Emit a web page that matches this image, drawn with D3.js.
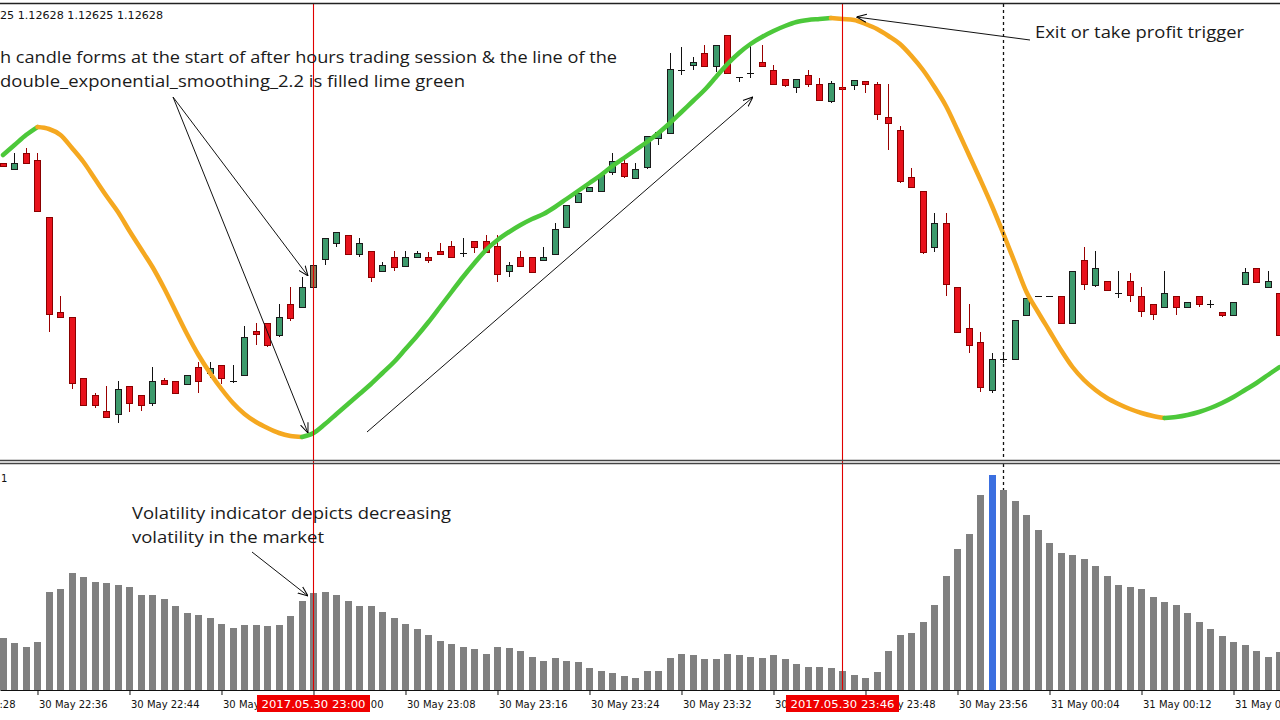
<!DOCTYPE html>
<html><head><meta charset="utf-8">
<script src="https://cdn.jsdelivr.net/npm/d3@7"></script>
<style>html,body{margin:0;padding:0;background:#fff;overflow:hidden}svg{display:block}</style>
</head><body>
<svg id="chart" width="1280" height="720"></svg>
<script>
// ---------- DATA ----------
const firstBar = "2017.05.30 22:33";   // time of first 1-minute bar
const open = [
1.12765,1.12759,1.12775,1.12768,1.12711,1.12616,1.12611,1.12550,1.12533,1.12517,
1.12514,1.12542,1.12533,1.12525,1.12548,1.12547,1.12544,1.12561,1.12555,1.12563,
1.12547,1.12553,1.12597,1.12605,1.12593,1.12624,1.12621,
1.12641,1.12669,1.12685,1.12693,1.12674,1.12677,1.12657,1.12671,1.12662,1.12671,
1.12671,1.12677,1.12682,1.12675,1.12687,1.12687,1.12682,1.12657,1.12671,1.12671,
1.12668,1.12674,1.12701,1.12726,1.12737,1.12737,1.12756,1.12765,1.12750,1.12761,
1.12790,1.12795,1.12858,1.12863,1.12875,1.12862,1.12893,1.12851,1.12855,1.12866,
1.12858,1.12849,1.12841,1.12853,1.12844,1.12827,1.12841,1.12843,1.12847,1.12844,
1.12811,1.12798,1.12751,1.12737,1.12681,1.12705,1.12641,1.12600,1.12586,1.12538,
1.12569,1.12569,1.12613,1.12632,1.12632,1.12632,1.12605,1.12668,1.12643,1.12647,
1.12635,1.12647,1.12632,1.12624,1.12621,1.12632,1.12621,1.12632,1.12624,1.12616,
1.12613,1.12644,1.12660,1.12641,1.12635];
const high = [
1.12765,1.12775,1.12780,1.12775,1.12711,1.12632,1.12611,1.12550,1.12535,1.12542,
1.12547,1.12542,1.12533,1.12561,1.12550,1.12547,1.12553,1.12566,1.12566,1.12563,
1.12563,1.12602,1.12605,1.12605,1.12624,1.12641,1.12651,
1.12668,1.12690,1.12696,1.12693,1.12690,1.12677,1.12666,1.12677,1.12677,1.12677,
1.12676,1.12685,1.12687,1.12690,1.12687,1.12693,1.12693,1.12666,1.12677,1.12671,
1.12681,1.12705,1.12723,1.12735,1.12741,1.12753,1.12775,1.12768,1.12765,1.12792,
1.12796,1.12875,1.12881,1.12871,1.12883,1.12883,1.12893,1.12851,1.12885,1.12883,
1.12863,1.12849,1.12849,1.12858,1.12850,1.12847,1.12841,1.12848,1.12847,1.12846,
1.12844,1.12802,1.12760,1.12737,1.12715,1.12715,1.12641,1.12624,1.12596,1.12575,
1.12573,1.12608,1.12630,1.12632,1.12632,1.12632,1.12657,1.12681,1.12677,1.12647,
1.12657,1.12655,1.12641,1.12624,1.12657,1.12632,1.12626,1.12632,1.12628,1.12616,
1.12626,1.12660,1.12660,1.12657,1.12635];
const low = [
1.12762,1.12759,1.12765,1.12717,1.12596,1.12611,1.12539,1.12523,1.12520,1.12511,
1.12505,1.12516,1.12517,1.12522,1.12544,1.12535,1.12544,1.12535,1.12550,1.12544,
1.12545,1.12553,1.12583,1.12581,1.12591,1.12607,1.12621,
1.12641,1.12663,1.12681,1.12674,1.12671,1.12646,1.12657,1.12657,1.12662,1.12671,
1.12665,1.12674,1.12671,1.12671,1.12675,1.12676,1.12646,1.12651,1.12662,1.12656,
1.12668,1.12674,1.12701,1.12726,1.12737,1.12737,1.12753,1.12750,1.12750,1.12759,
1.12783,1.12795,1.12853,1.12858,1.12862,1.12856,1.12855,1.12846,1.12850,1.12862,
1.12844,1.12841,1.12835,1.12841,1.12828,1.12825,1.12839,1.12838,1.12835,1.12808,
1.12778,1.12745,1.12741,1.12674,1.12676,1.12632,1.12596,1.12575,1.12536,1.12535,
1.12565,1.12569,1.12613,1.12632,1.12632,1.12605,1.12605,1.12638,1.12641,1.12638,
1.12630,1.12626,1.12611,1.12608,1.12621,1.12613,1.12621,1.12621,1.12620,1.12611,
1.12613,1.12644,1.12646,1.12641,1.12593];
const close = [
1.12762,1.12765,1.12765,1.12717,1.12614,1.12611,1.12545,1.12523,1.12523,1.12511,
1.12539,1.12525,1.12523,1.12547,1.12544,1.12535,1.12553,1.12547,1.12560,1.12550,
1.12547,1.12591,1.12594,1.12583,1.12611,1.12610,1.12641,
1.12663,1.12690,1.12696,1.12674,1.12685,1.12651,1.12663,1.12661,1.12671,1.12675,
1.12668,1.12674,1.12671,1.12675,1.12681,1.12676,1.12654,1.12663,1.12662,1.12656,
1.12671,1.12699,1.12723,1.12735,1.12741,1.12753,1.12767,1.12752,1.12759,1.12792,
1.12796,1.12859,1.12858,1.12866,1.12862,1.12883,1.12855,1.12851,1.12855,1.12862,
1.12844,1.12843,1.12849,1.12844,1.12828,1.12845,1.12839,1.12848,1.12844,1.12814,
1.12805,1.12747,1.12741,1.12676,1.12705,1.12644,1.12596,1.12583,1.12541,1.12569,
1.12569,1.12608,1.12630,1.12632,1.12632,1.12605,1.12657,1.12644,1.12660,1.12638,
1.12635,1.12633,1.12617,1.12614,1.12635,1.12621,1.12626,1.12624,1.12624,1.12613,
1.12626,1.12656,1.12646,1.12647,1.12593];
// double_exponential_smoothing_2.2 line
const dema = [
1.12773,1.12783,1.12793,1.12801,1.12799,1.12793,1.12780,1.12766,1.12749,1.12732,
1.12716,1.12697,1.12679,1.12661,1.12640,1.12617,1.12594,1.12573,1.12555,1.12539,
1.12525,1.12514,1.12506,1.12500,1.12495,1.12492,1.12491,
1.12495,1.12504,1.12514,1.12524,1.12534,1.12544,1.12555,1.12566,1.12579,1.12592,
1.12606,1.12621,1.12636,1.12651,1.12665,1.12678,1.12688,1.12696,1.12703,1.12709,
1.12714,1.12721,1.12729,1.12737,1.12745,1.12753,1.12762,1.12770,1.12778,1.12786,
1.12795,1.12805,1.12816,1.12827,1.12838,1.12851,1.12864,1.12875,1.12884,1.12891,
1.12897,1.12902,1.12906,1.12908,1.12909,1.12910,
1.12909,1.12908,1.12904,1.12899,1.12892,1.12884,1.12872,1.12858,1.12841,1.12822,
1.12798,1.12773,1.12748,1.12722,1.12694,1.12665,1.12636,1.12616,1.12597,1.12578,
1.12561,1.12548,1.12538,1.12530,1.12524,1.12519,1.12515,1.12512,1.12510,1.12511,
1.12513,1.12516,1.12520,1.12525,1.12531,1.12538,1.12545,1.12553,1.12561];
// volatility histogram
const volatility = [
5.2,4.7,4.3,4.8,9.8,10.1,11.7,11.3,10.8,10.7,10.5,10.3,9.5,9.5,9.1,8.4,7.7,7.5,7.2,6.6,
6.2,6.5,6.5,6.4,6.5,7.4,8.9,
9.7,9.8,9.5,8.9,8.4,8.4,7.8,7.2,6.6,6.1,5.5,4.9,4.6,4.3,4.1,3.6,4.3,4.2,3.9,3.3,
2.9,3.2,2.9,2.8,2.2,1.9,1.7,1.4,1.2,
1.9,1.9,3.2,3.6,3.5,3.1,3.1,3.6,3.5,3.3,3.2,3.5,3.1,2.6,2.3,2.3,2.2,1.9,1.5,1.2,
1.8,3.9,5.5,5.7,6.8,8.5,11.4,14.1,15.6,19.5,21.5,20.0,18.9,17.5,16.0,14.7,13.7,13.5,13.1,12.4,
11.4,10.5,10.3,10.1,9.3,8.8,8.5,7.7,6.8,6.1,5.4,4.8,4.5,3.9,3.3,3.8];
const tickTimes = ["2017.05.30 22:28","2017.05.30 22:36","2017.05.30 22:44","2017.05.30 22:52",
  "2017.05.30 23:00","2017.05.30 23:08","2017.05.30 23:16","2017.05.30 23:24","2017.05.30 23:32",
  "2017.05.30 23:40","2017.05.30 23:48","2017.05.30 23:56","2017.05.31 00:04","2017.05.31 00:12",
  "2017.05.31 00:20"];
const markerTimes = ["2017.05.30 23:00","2017.05.30 23:46"];   // red vertical lines
const exitTime = "2017.05.31 00:00";                           // dotted line
const highlightCandle = "2017.05.30 23:00";
const highlightBar = "2017.05.30 23:59";
const headerText = "25 1.12628 1.12625 1.12628";

// ---------- SETUP ----------
const W = 1280, H = 720;
const parse = d3.timeParse("%Y.%m.%d %H:%M");
const fmtTick = d3.timeFormat("%d %b %H:%M");
const t0 = parse(firstBar);
const times = open.map((_, i) => d3.timeMinute.offset(t0, i));
const bars = times.map((t, i) => ({t, o: open[i], h: high[i], l: low[i], c: close[i], v: volatility[i], s: dema[i]}));

const x = d3.scaleTime()
  .domain([new Date(2017,4,30,22,32,44,348), new Date(2017,4,31,0,24,2,609)])
  .range([0, W]);
const yP = d3.scaleLinear().domain([1.12470, 1.12928]).range([458, 0]);
const yV = d3.scaleLinear().domain([0, 22.8]).range([690, 462]);
const px = t => Math.floor(x(t) + 0.01) + 0.5;

const svg = d3.select("#chart");
svg.append("rect").attr("width", W).attr("height", H).attr("fill", "#fff");
const defs = svg.append("defs");
defs.append("clipPath").attr("id", "clipTop").append("rect").attr("x", 0).attr("y", 4).attr("width", W).attr("height", 455);
defs.append("marker").attr("id", "ah").attr("viewBox", "0 0 10 10").attr("refX", 10).attr("refY", 5)
  .attr("markerWidth", 10).attr("markerHeight", 10).attr("markerUnits", "userSpaceOnUse").attr("orient", "auto")
  .append("path").attr("d", "M0,1 L10,5 L0,9").attr("fill", "none").attr("stroke", "#000").attr("stroke-width", 1);

// ---------- CANDLES ----------
const topG = svg.append("g").attr("clip-path", "url(#clipTop)");
const GREEN = "#3d9a6c", RED = "#e8121c";
const cg = topG.append("g");
bars.forEach(d => {
  const cx = px(d.t);
  const dn = d.c < d.o, up = d.c > d.o;
  const special = +d.t === +parse(highlightCandle);
  cg.append("line").attr("x1", cx).attr("x2", cx).attr("y1", yP(d.h)).attr("y2", yP(d.l))
    .attr("stroke", dn ? "#9a0000" : "#111").attr("stroke-width", 1);
  if (!up && !dn) {
    cg.append("line").attr("x1", cx - 3.5).attr("x2", cx + 3.5).attr("y1", yP(d.o) + 0.5).attr("y2", yP(d.o) + 0.5)
      .attr("stroke", "#111").attr("stroke-width", 1);
  } else {
    const yt = yP(Math.max(d.o, d.c)), yb = yP(Math.min(d.o, d.c));
    cg.append("rect").attr("x", cx - 3).attr("y", yt + 0.5).attr("width", 6).attr("height", Math.max(1, yb - yt))
      .attr("fill", special ? "#8a7652" : (up ? GREEN : RED))
      .attr("stroke", up ? "#1a1a1a" : "#8a0000").attr("stroke-width", 1);
  }
});

// ---------- HISTOGRAM ----------
const hg = svg.append("g");
hg.selectAll("rect").data(bars).join("rect")
  .attr("x", d => Math.floor(x(d.t) + 0.01) - 3)
  .attr("y", d => yV(d.v))
  .attr("width", 7)
  .attr("height", d => yV(0) - yV(d.v))
  .attr("fill", d => +d.t === +parse(highlightBar) ? "#3b6fe0" : "#808080");

// ---------- VERTICAL LINES ----------
markerTimes.forEach(s => {
  const cx = px(parse(s));
  svg.append("line").attr("x1", cx).attr("x2", cx).attr("y1", 4).attr("y2", 690)
    .attr("stroke", "#e00000").attr("stroke-width", 1.1);
});
{
  const te = parse(exitTime);
  const cx = px(te);
  const vb = bars.find(b => +b.t === +te);
  svg.append("line").attr("x1", cx).attr("x2", cx).attr("y1", 4).attr("y2", 458)
    .attr("stroke", "#111").attr("stroke-width", 1.3).attr("stroke-dasharray", "3,3");
  svg.append("line").attr("x1", cx).attr("x2", cx).attr("y1", 464).attr("y2", yV(vb.v))
    .attr("stroke", "#111").attr("stroke-width", 1.3).attr("stroke-dasharray", "3,3");
}

// ---------- SMOOTHING LINE ----------
const runs = [];
for (let i = 0; i < bars.length - 1; i++) {
  const upSeg = bars[i + 1].s >= bars[i].s;
  const last = runs[runs.length - 1];
  if (last && last.up === upSeg) last.pts.push(bars[i + 1]);
  else runs.push({up: upSeg, pts: [bars[i], bars[i + 1]]});
}
const lineGen = d3.line().x(d => x(d.t)).y(d => yP(d.s)).curve(d3.curveMonotoneX);
topG.append("g").selectAll("path").data(runs).join("path")
  .attr("d", r => lineGen(r.pts))
  .attr("fill", "none")
  .attr("stroke", r => r.up ? "#4cc83a" : "#f5a820")
  .attr("stroke-width", 4.5).attr("stroke-linecap", "round").attr("stroke-linejoin", "round");

// ---------- FRAME ----------
svg.append("line").attr("x1", 0).attr("x2", W).attr("y1", 3.5).attr("y2", 3.5).attr("stroke", "#222").attr("stroke-width", 1.6);
svg.append("line").attr("x1", 0).attr("x2", W).attr("y1", 460.5).attr("y2", 460.5).attr("stroke", "#444").attr("stroke-width", 1.4);
svg.append("line").attr("x1", 0).attr("x2", W).attr("y1", 463.5).attr("y2", 463.5).attr("stroke", "#444").attr("stroke-width", 1.4);

// ---------- AXIS ----------
const ax = svg.append("g").attr("transform", "translate(0,690)")
  .call(d3.axisBottom(x).tickValues(tickTimes.map(parse)).tickFormat(fmtTick).tickSize(5).tickSizeOuter(0));
ax.select(".domain").attr("stroke", "#111");
ax.selectAll(".tick line").attr("stroke", "#111");
ax.selectAll(".tick text").attr("text-anchor", "start").attr("x", 1).attr("y", 18).attr("dy", null)
  .attr("fill", "#111").style("font-family", "DejaVu Sans").style("font-size", "10px");

markerTimes.forEach(s => {
  const cx = x(parse(s));
  svg.append("rect").attr("x", cx - 56.5).attr("y", 695).attr("width", 113).attr("height", 17).attr("fill", "#f00000");
  svg.append("text").attr("x", cx).attr("y", 708).attr("text-anchor", "middle").attr("fill", "#fff")
    .attr("textLength", 104).attr("lengthAdjust", "spacingAndGlyphs")
    .style("font-family", "DejaVu Sans").style("font-size", "11px").text(s);
});

// ---------- TEXT & ANNOTATIONS ----------
svg.append("text").attr("x", 0).attr("y", 19).attr("textLength", 163).attr("lengthAdjust", "spacingAndGlyphs")
  .attr("fill", "#111").style("font-family", "DejaVu Sans").style("font-size", "10.5px").text(headerText);
svg.append("text").attr("x", 1).attr("y", 482).attr("fill", "#111")
  .style("font-family", "DejaVu Sans").style("font-size", "10px").text("1");

const notes = [
  {x: 0, y: 63, w: 617, t: "h candle forms at the start of after hours trading session & the line of the"},
  {x: 0, y: 87, w: 465, t: "double_exponential_smoothing_2.2 is filled lime green"},
  {x: 1035, y: 38, w: 209, t: "Exit or take profit trigger"},
  {x: 132, y: 519, w: 319, t: "Volatility indicator depicts decreasing"},
  {x: 132, y: 543, w: 192, t: "volatility in the market"}
];
svg.append("g").selectAll("text").data(notes).join("text")
  .attr("x", d => d.x).attr("y", d => d.y).attr("textLength", d => d.w).attr("lengthAdjust", "spacingAndGlyphs")
  .attr("fill", "#1a1a1a").style("font-family", "Open Sans").style("font-size", "16px").text(d => d.t);

const bAt = s => bars.find(b => +b.t === +parse(s));
const b0 = bAt(highlightCandle), bPeak = bAt("2017.05.30 23:46");
const arrows = [
  [173, 97, x(b0.t) - 5.5, yP((b0.o + b0.c) / 2)],
  [173, 97, x(b0.t) - 5.5, yP(b0.s)],
  [367, 432, 753, 97],
  [1030, 40, x(bPeak.t) + 14, yP(bPeak.s) - 2],
  [252, 552, x(b0.t) - 5.5, yV(b0.v) + 3]
];
svg.append("g").selectAll("line").data(arrows).join("line")
  .attr("x1", d => d[0]).attr("y1", d => d[1]).attr("x2", d => d[2]).attr("y2", d => d[3])
  .attr("stroke", "#111").attr("stroke-width", 1).attr("marker-end", "url(#ah)");
</script>
</body></html>
